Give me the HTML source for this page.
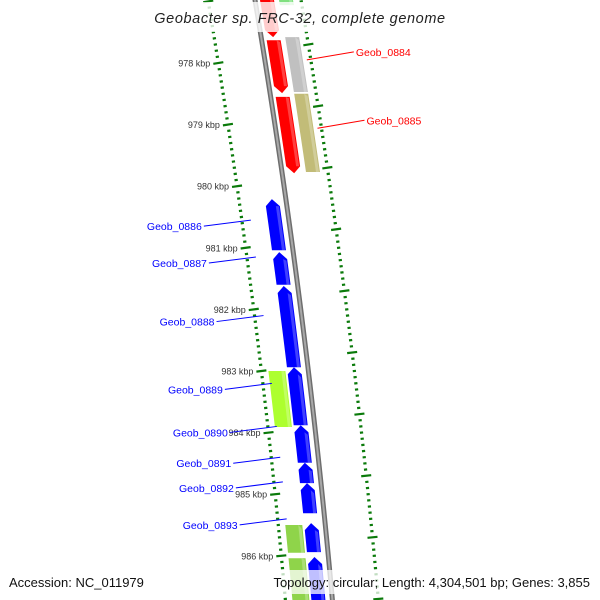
<!DOCTYPE html>
<html><head><meta charset="utf-8"><style>
body{margin:0;background:#fff;}
svg{display:block;font-family:"Liberation Sans",sans-serif;}
</style></head><body>
<svg id="map" width="600" height="600" viewBox="0 0 600 600"></svg>
<script>
// ---- data (kbp) ----
const tickKbp = [978, 979, 980, 981, 982, 983, 984, 985, 986];
const geneStart = [976.49, 977.63, 978.55, 976.65, 977.58, 978.50, 980.21, 981.07, 981.62, 982.94, 983.88, 984.49, 984.82, 985.47, 986.02, 983.00, 985.50, 986.04];
const geneEnd   = [977.58, 978.49, 979.79, 977.06, 978.47, 979.77, 981.04, 981.60, 982.94, 983.88, 984.49, 984.82, 985.31, 985.94, 987.10, 983.91, 985.95, 987.10];
const geneStrand= [1,1,1,1,1,1,-1,-1,-1,-1,-1,-1,-1,-1,-1,-1,-1,-1];
const geneTrack = ["cds","cds","cds","feat","feat","feat","cds","cds","cds","cds","cds","cds","cds","cds","cds","feat","feat","feat"];
const geneColor = ["#ff0000","#ff0000","#ff0000","#7fe07f","#c0c0c0","#c2bc78","#0000ff","#0000ff","#0000ff","#0000ff","#0000ff","#0000ff","#0000ff","#0000ff","#0000ff","#adff2f","#8fd44a","#8fd44a"];
const labelText = ["Geob_0884","Geob_0885","Geob_0886","Geob_0887","Geob_0888","Geob_0889","Geob_0890","Geob_0891","Geob_0892","Geob_0893"];
const labelKbp  = [977.95, 979.06, 980.55, 981.15, 982.1, 983.2, 983.9, 984.4, 984.8, 985.4];
const labelColor= ["#ff0000","#ff0000","#0000ff","#0000ff","#0000ff","#0000ff","#0000ff","#0000ff","#0000ff","#0000ff"];
const labelSide = [1,1,-1,-1,-1,-1,-1,-1,-1,-1];

// ---- axis functions ----
const Y0 = 63, PX_PER_KBP = 61.6;
function yOf(k){ return Y0 + (k - 978) * PX_PER_KBP; }
function xb(y){ return 255 + 0.168*y - 0.000065*y*y; }
function slope(y){ return 0.168 - 0.00013*y; }
function pt(y, off){ return [xb(y)+off, y]; }

const svg = document.getElementById('map');
const NS = 'http://www.w3.org/2000/svg';
function mk(tag, attrs){ const e=document.createElementNS(NS,tag); for(const k in attrs) e.setAttribute(k,attrs[k]); svg.appendChild(e); return e; }

// backbone
let bb = [];
for(let y=-5;y<=605;y+=10) bb.push(pt(y,0).join(','));
let b1 = mk('polyline',{points:bb.join(' '),fill:'none',stroke:'#6e6e6e','stroke-width':5});


let b2 = mk('polyline',{points:bb.join(' '),fill:'none',stroke:'#a8a8a8','stroke-width':2});



// tick rings
function tickRing(off, majorShift, name){
  for(let k=975; k<=988; k+=0.1){
    const y = yOf(k); if(y<-5||y>605) continue;
    const frac = Math.abs(((k - majorShift) % 1 + 1) % 1);
    const major = frac < 0.05 || frac > 0.95;
    const len = major ? 5 : 1.6;
    const s = slope(y);
    const x = xb(y)+off;
    const l = mk('line',{x1:x-len,y1:y+len*s,x2:x+len,y2:y-len*s,stroke:'#0a7a0a','stroke-width':2.2});
    
    
  }
}
tickRing(-47, 0, 'inner-ruler');
tickRing(46, 0.66, 'outer-ruler');

// kbp labels
tickKbp.forEach(k=>{
  const y = yOf(k);
  const t = mk('text',{x:xb(y)-55,y:y+3.5,'text-anchor':'end','font-size':9,fill:'#333'});
  t.textContent = k + ' kbp';
  
  
});

// genes
geneStart.forEach((s,i)=>{
  const e = geneEnd[i], st = geneStrand[i], tr = geneTrack[i];
  let o1,o2;
  if(st>0){ if(tr==='cds'){o1=5;o2=19;} else {o1=24;o2=38;} }
  else { if(tr==='cds'){o1=-21;o2=-7;} else {o1=-40;o2=-23;} }
  let yA = yOf(s), yB = yOf(e);
  const arrow = tr==='cds';
  const head = arrow ? 7 : 0;
  let pts=[];
  if(st>0){
    for(let y=yA;y<=yB-head;y+=4) pts.push(pt(y,o1));
    pts.push(pt(yB-head,o1)); pts.push(pt(yB,(o1+o2)/2)); pts.push(pt(yB-head,o2));
    for(let y=yB-head;y>=yA;y-=4) pts.push(pt(y,o2));
    pts.push(pt(yA,o2));
  } else {
    pts.push(pt(yA,(o1+o2)/2)); pts.push(pt(yA+head,o2));
    for(let y=yA+head;y<=yB;y+=4) pts.push(pt(y,o2));
    pts.push(pt(yB,o2)); pts.push(pt(yB,o1));
    for(let y=yB;y>=yA+head;y-=4) pts.push(pt(y,o1));
    pts.push(pt(yA+head,o1));
  }
  const g = mk('polygon',{points:pts.map(p=>p.join(',')).join(' '),fill:geneColor[i]});
  
  
  // shading stripe
  let sp=[];
  const so1 = o2-4, so2 = o2-1;
  const ya = yA+(st<0?head:0), yb = yB-(st>0?head:0);
  for(let y=ya;y<=yb;y+=4) sp.push(pt(y,so1));
  sp.push(pt(yb,so1)); sp.push(pt(yb,so2));
  for(let y=yb;y>=ya;y-=4) sp.push(pt(y,so2));
  const sh = mk('polygon',{points:sp.map(p=>p.join(',')).join(' '),fill:'#ffffff','fill-opacity':0.25});
  
  
});

// labels
labelText.forEach((t,i)=>{
  const y = yOf(labelKbp[i]);
  const side = labelSide[i];
  let x1,y1,x2,y2,tx,anchor;
  if(side>0){ x1=xb(y)+42; y1=y; x2=x1+47; y2=y-8; tx=x2+2; anchor='start'; }
  else { x1=xb(y)-38; y1=y; x2=x1-47; y2=y+6; tx=x2-2; anchor='end'; }
  const l = mk('line',{x1,y1,x2,y2,stroke:labelColor[i],'stroke-width':1});
  
  
  const tt = mk('text',{x:tx,y:y2+4,'text-anchor':anchor,'font-size':10.5,fill:labelColor[i]});
  tt.textContent = t;
  
  
});

// title
const tb = mk('rect',{x:155,y:2,width:290,height:30,fill:'#fff','fill-opacity':0.8});


const title = mk('text',{x:300,y:23,'text-anchor':'middle','font-size':14.5,'font-style':'italic',fill:'#222','letter-spacing':0.6});
title.textContent = 'Geobacter sp. FRC-32, complete genome';



// footer
const fb = mk('rect',{x:258,y:570,width:340,height:24,fill:'#fff','fill-opacity':0.75});


const acc = mk('text',{x:9,y:587,'font-size':13,fill:'#111'});
acc.textContent = 'Accession: NC_011979';


const topo = mk('text',{x:590,y:587,'text-anchor':'end','font-size':13,fill:'#111'});
topo.textContent = 'Topology: circular; Length: 4,304,501 bp; Genes: 3,855';


</script>
</body></html>
